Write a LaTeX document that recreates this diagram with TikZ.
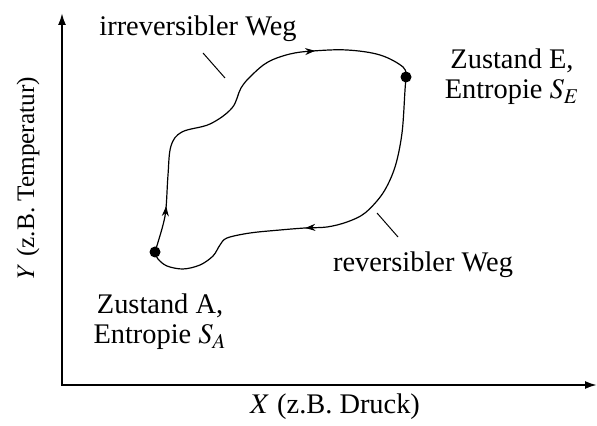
\documentclass[tikz,border=0pt]{standalone}
\usepackage{mathptmx}
\usepackage{fontspec}
\setmainfont{Liberation Serif}
\usetikzlibrary{arrows.meta,decorations.markings}

\tikzset{
  achse/.style={line width=1pt,{Latex[length=6pt,width=4pt]}-{Latex[length=6pt,width=4pt]}},
  weg/.style={line width=0.6pt},
  zustand/.style={circle,fill,inner sep=0pt,minimum size=5.5pt},
  beschriftung/.style={font=\fontsize{14.2}{15}\selectfont,align=center,inner sep=0pt},
  zeiger/.style={line width=0.5pt},
  pfeil/.style={postaction={decorate,decoration={markings,
      mark=at position #1 with {\arrow{Stealth[length=5pt,width=3.5pt]}}}}}
}

\begin{document}
\begin{tikzpicture}[x=0.5pt,y=0.5pt]
\useasboundingbox (0,0) rectangle (597,426);

% Achsen
\coordinate (O) at (62,41);
\coordinate (ymax) at (62,413);
\coordinate (xmax) at (597,41);
\draw[achse] (ymax) -- (O) -- (xmax);
\node[beschriftung] (xlab) at (335,19) {$X$ (z.B. Druck)};
\node[beschriftung,font=\fontsize{12.6}{15}\selectfont,rotate=90] (ylab) at (28,248) {$Y$ (z.B. Temperatur)};

% Zustaende
\node[zustand] (A) at (155,174) {};
\node[zustand] (E) at (406,349) {};
\node[beschriftung] (zA) at (160,104) {Zustand A,\\Entropie $S_A$};
\node[beschriftung] (zE) at (512,349) {Zustand E,\\Entropie $S_E$};

% irreversibler Weg A -> E
\draw[weg,pfeil=0.12,pfeil=0.74] plot[smooth,tension=0.6] coordinates {(A) (163,201) (166,218) (168,251) (171,280) (182,294) (210,302) (232,318) (241,338) (252,351) (268,364) (290,372) (313,375) (347,376) (380,371) (403,359) (E)};

% reversibler Weg E -> A
\draw[weg,pfeil=0.55] plot[smooth,tension=0.55] coordinates {(E) (405,336) (402,293) (395,259) (383,233) (365,213) (347,204) (327,199) (305,198) (280,196) (250,193) (227,188) (220,181) (213,170) (200,161) (183,157) (167,160) (158,167) (A)};

% Beschriftung der Wege
\node[beschriftung] (irr) at (198,397) {irreversibler Weg};
\node[beschriftung] (rev) at (423,161) {reversibler Weg};
\coordinate (irr1) at (203,373);
\coordinate (irr2) at (225,348);
\coordinate (rev1) at (377,213);
\coordinate (rev2) at (398,189);
\draw[zeiger] (irr1) -- (irr2);
\draw[zeiger] (rev1) -- (rev2);

\end{tikzpicture}
\end{document}
